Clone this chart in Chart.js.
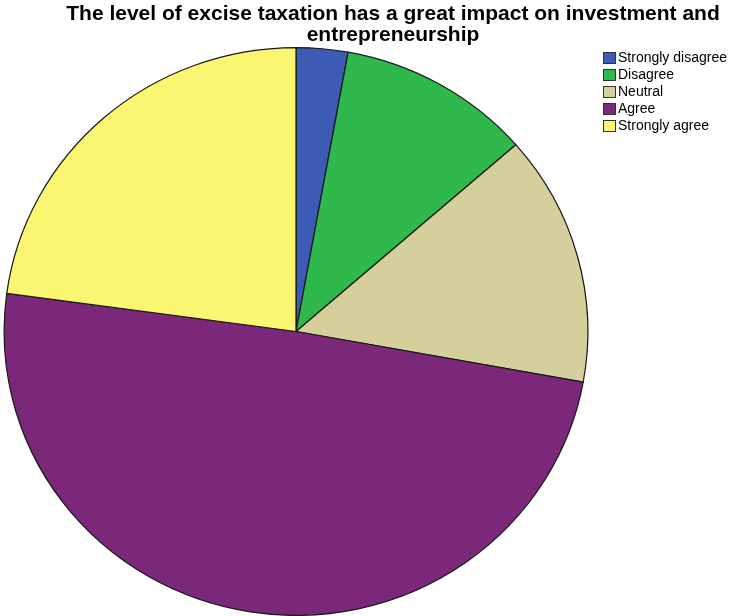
<!DOCTYPE html>
<html>
<head>
<meta charset="utf-8">
<script src="https://cdn.jsdelivr.net/npm/chart.js@4"></script>
<style>
  html, body { margin: 0; padding: 0; background: #fff; }
  #wrap { width: 730px; height: 616px; }
</style>
</head>
<body>
<div id="wrap"><canvas id="myPie"></canvas></div>
<script>
(() => {
    'use strict'

    const titleLines = [
        'The level of excise taxation has a great impact on investment and',
        'entrepreneurship'
    ]
    const categories = ['Strongly disagree', 'Disagree', 'Neutral', 'Agree', 'Strongly agree']
    const counts = [4, 15, 20, 69, 32]
    const colors = ['#3d5ab4', '#2fb84b', '#d4cf9b', '#7b287b', '#fbf671']

    // title is drawn by hand so it can sit a little right of centre
    const titleDraw = {
        id: 'titleDraw',
        afterDraw(chart) {
            const c = chart.ctx
            c.save()
            c.fillStyle = '#000'
            c.font = 'bold 21px "Liberation Sans", Arial, sans-serif'
            c.textAlign = 'center'
            c.textBaseline = 'alphabetic'
            titleLines.forEach((t, i) => c.fillText(t, 393, 20 + i * 21))
            c.restore()
        }
    }

    // small legend in the right margin, text tight against the swatch
    const sideLegend = {
        id: 'sideLegend',
        afterDraw(chart) {
            const c = chart.ctx
            const ds = chart.data.datasets[0]
            const x = chart.chartArea.right + 11
            c.save()
            c.font = '14px "Liberation Sans", Arial, sans-serif'
            c.textBaseline = 'middle'
            c.lineWidth = 1
            chart.data.labels.forEach((lbl, i) => {
                const y = 52 + i * 17
                c.fillStyle = ds.backgroundColor[i]
                c.fillRect(x, y, 13, 12)
                c.strokeStyle = '#333'
                c.strokeRect(x + 0.5, y + 0.5, 12, 11)
                c.fillStyle = '#000'
                c.fillText(lbl, x + 15, y + 6.5)
            })
            c.restore()
        }
    }

    // the pie is a touch wider than tall
    const widen = {
        id: 'widen',
        beforeDatasetsDraw(chart) {
            const c = chart.ctx
            const cx = (chart.chartArea.left + chart.chartArea.right) / 2
            c.save()
            c.translate(cx, 0)
            c.scale(292 / 284, 1)
            c.translate(-cx, 0)
        },
        afterDatasetsDraw(chart) {
            chart.ctx.restore()
        }
    }

    const pie = document.getElementById('myPie')
    // eslint-disable-next-line no-unused-vars
    const myPie = new Chart(pie, {
        type: 'pie',
        data: {
            labels: categories,
            datasets: [{
                data: counts,
                backgroundColor: colors,
                borderColor: '#1a1a1a',
                borderWidth: 1.2
            }]
        },
        options: {
            responsive: true,
            maintainAspectRatio: false,
            animation: false,
            layout: {
                padding: { top: 47, right: 138 }
            },
            plugins: {
                legend: { display: false },
                title: { display: false },
                tooltip: { enabled: false }
            }
        },
        plugins: [widen, titleDraw, sideLegend]
    })
})()
</script>
</body>
</html>
